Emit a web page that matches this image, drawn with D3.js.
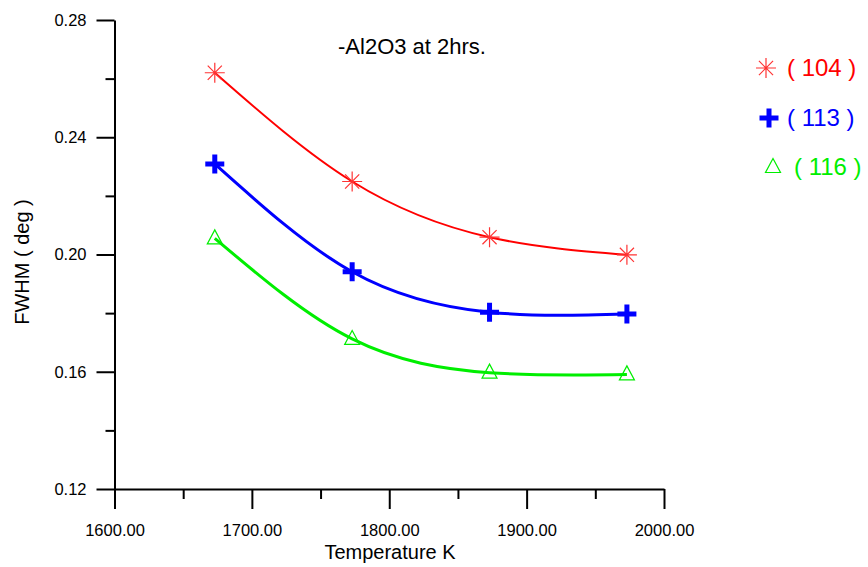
<!DOCTYPE html>
<html>
<head>
<meta charset="utf-8">
<script src="https://cdn.jsdelivr.net/npm/d3@7"></script>
<style>
	body { margin: 0; background: #fff; }
	text { font-family: Arial, "Liberation Sans", sans-serif; }
</style>
</head>
<body>
<div id="chart"></div>
<script>
// temperatures (K) and FWHM (deg)
let temps		= [1673, 1773, 1873, 1973];
let fwhm104		= [0.262, 0.2249, 0.2059, 0.1999];
let fwhm113		= [0.2309, 0.1941, 0.1803, 0.1797];
let fwhm116		= [0.2055, 0.1712, 0.1597, 0.1591];
let seriesNames	= ['( 104 )', '( 113 )', '( 116 )'];

let xMajor		= [1600, 1700, 1800, 1900, 2000];
let xMinor		= [1650, 1750, 1850, 1950];
let yMajor		= [0.12, 0.16, 0.20, 0.24, 0.28];
let yMinor		= [0.14, 0.18, 0.22, 0.26];

let width	= 868;
let height	= 567;
let margin	= { top: 20, right: 204, bottom: 78, left: 114.5 };

let svg = d3.select('#chart').append('svg')
	.attr('width', width)
	.attr('height', height);

let x = d3.scaleLinear().domain([1600, 2000]).range([margin.left, 664]);
let y = d3.scaleLinear().domain([0.12, 0.28]).range([489, margin.top]);

// axes
svg.append('g').attr('transform', 'translate(0,' + y(0.12) + ')')
	.call(d3.axisBottom(x).tickValues(xMajor).tickSize(20).tickSizeOuter(0).tickPadding(15).tickFormat(d3.format('.2f')));
svg.append('g').attr('transform', 'translate(0,' + y(0.12) + ')')
	.call(d3.axisBottom(x).tickValues(xMinor).tickSize(10).tickSizeOuter(0).tickFormat(''))
	.select('.domain').remove();

svg.append('g').attr('transform', 'translate(' + x(1600) + ',0)')
	.call(d3.axisLeft(y).tickValues(yMajor).tickSize(18).tickSizeOuter(0).tickPadding(10).tickFormat(d3.format('.2f')));
svg.append('g').attr('transform', 'translate(' + x(1600) + ',0)')
	.call(d3.axisLeft(y).tickValues(yMinor).tickSize(9).tickSizeOuter(0).tickFormat(''))
	.select('.domain').remove();

svg.selectAll('.domain, .tick line').attr('stroke', '#000').attr('stroke-width', 2);
svg.selectAll('.tick text').attr('fill', '#000').style('font-size', '16.5px');

// titles
svg.append('text')
	.attr('x', 390).attr('y', 559)
	.attr('text-anchor', 'middle')
	.style('font-size', '20px')
	.text('Temperature K');

svg.append('text')
	.attr('transform', 'translate(29,262) rotate(-90)')
	.attr('text-anchor', 'middle')
	.style('font-size', '20px')
	.text('FWHM ( deg )');

svg.append('text')
	.attr('x', 412).attr('y', 54)
	.attr('text-anchor', 'middle')
	.style('font-size', '22px')
	.text('-Al2O3 at 2hrs.');

// markers
function asterisk(g, cx, cy, r) {
	let a = r * Math.SQRT1_2;
	let d = 'M' + (cx - r) + ',' + cy + 'H' + (cx + r)
		+ 'M' + cx + ',' + (cy - r) + 'V' + (cy + r)
		+ 'M' + (cx - a) + ',' + (cy - a) + 'L' + (cx + a) + ',' + (cy + a)
		+ 'M' + (cx - a) + ',' + (cy + a) + 'L' + (cx + a) + ',' + (cy - a);
	g.append('path').attr('d', d).attr('stroke', '#ff3333').attr('stroke-width', 1.2).attr('fill', 'none');
}
function plus(g, cx, cy) {
	g.append('path')
		.attr('d', 'M' + (cx - 9.5) + ',' + (cy - 2.5) + 'h19v5h-19z M' + (cx - 2.5) + ',' + (cy - 9.5) + 'h5v19h-5z')
		.attr('fill', '#0000ff');
}
function triangle(g, cx, cy) {
	g.append('path')
		.attr('d', 'M' + cx + ',' + (cy - 8.5) + 'L' + (cx + 7.5) + ',' + (cy + 5.5) + 'L' + (cx - 7.5) + ',' + (cy + 5.5) + 'Z')
		.attr('fill', 'none').attr('stroke', '#00ee00').attr('stroke-width', 1.2);
}

let series = [
	{ values: fwhm104, color: '#ff0000', lw: 2, mark: (g, cx, cy) => asterisk(g, cx, cy, 10) },
	{ values: fwhm113, color: '#0000ff', lw: 3, mark: plus },
	{ values: fwhm116, color: '#00ee00', lw: 3, mark: triangle }
];

let line = d3.line()
	.x((d, i) => x(temps[i]))
	.y(d => y(d))
	.curve(d3.curveNatural);

series.forEach((s) => {
	svg.append('path')
		.datum(s.values)
		.attr('d', line)
		.attr('fill', 'none')
		.attr('stroke', s.color)
		.attr('stroke-width', s.lw);
});

series.forEach((s) => {
	let g = svg.append('g');
	s.values.forEach((v, i) => s.mark(g, x(temps[i]), y(v)));
});

// legend
let legendRows = [
	{ mx: 766, tx: 787, cy: 68 },
	{ mx: 769, tx: 787, cy: 118 },
	{ mx: 773, tx: 794, cy: 167 }
];
legendRows.forEach((r, i) => {
	let g = svg.append('g');
	series[i].mark(g, r.mx, r.cy);
	g.append('text')
		.attr('x', r.tx).attr('y', r.cy)
		.attr('dy', '0.35em')
		.attr('fill', series[i].color)
		.style('font-size', '24px')
		.text(seriesNames[i]);
});
</script>
</body>
</html>
